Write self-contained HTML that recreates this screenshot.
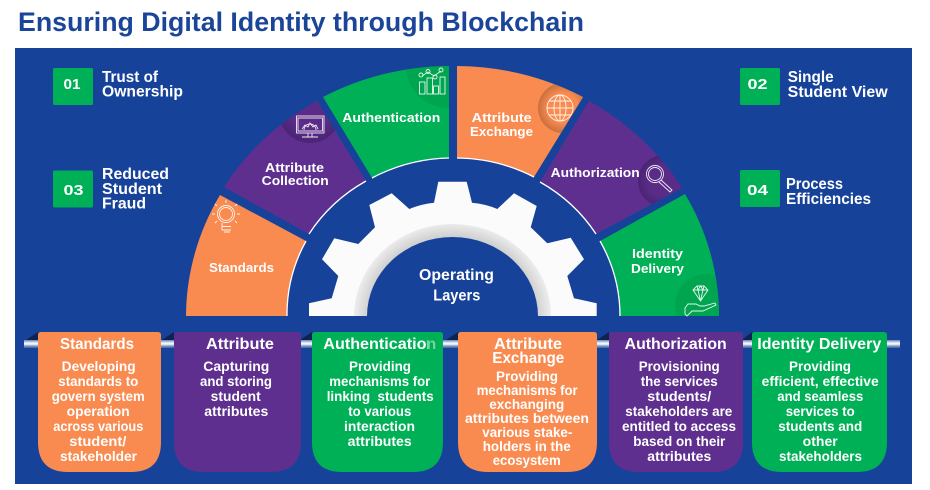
<!DOCTYPE html>
<html>
<head>
<meta charset="utf-8">
<style>
html,body{margin:0;padding:0;background:#fff;width:930px;height:490px;overflow:hidden}
svg{display:block}
text{font-family:"Liberation Sans",sans-serif;font-weight:700;fill:#fff}
.h{font-size:15.5px}
.b{font-size:13.5px}
.a{font-size:13px}
.n{font-size:15px}
.ic{fill:none;stroke:#fff;stroke-width:.9;opacity:.9}
</style>
</head>
<body>
<svg width="930" height="490" viewBox="0 0 930 490" xmlns="http://www.w3.org/2000/svg">
<defs>
<linearGradient id="pipe" x1="0" y1="0" x2="0" y2="1">
<stop offset="0" stop-color="#5f80b6"/><stop offset=".3" stop-color="#d5e0f0"/><stop offset=".5" stop-color="#ffffff"/><stop offset=".75" stop-color="#7f9cc8"/><stop offset="1" stop-color="#3f639f"/>
</linearGradient>
<radialGradient id="ring" gradientUnits="userSpaceOnUse" cx="452.5" cy="316" r="100" gradientTransform="translate(0 17.4) scale(1 .945)">
<stop offset=".84" stop-color="#cfcfcf"/><stop offset="1" stop-color="#f0f0f0"/>
</radialGradient>
<radialGradient id="dOr"><stop offset=".6" stop-color="#F98B50"/><stop offset="1" stop-color="#C8703F"/></radialGradient>
<radialGradient id="dPu"><stop offset=".6" stop-color="#5A2C88"/><stop offset="1" stop-color="#4A2474"/></radialGradient>
<clipPath id="c1"><path d="M323 97A266.5 250 0 0 1 449 66V158A166 158 0 0 0 372 178Z"/></clipPath>
<clipPath id="c2"><path d="M224 187A266.5 250 0 0 1 317 101L366 181A166 158 0 0 0 309 234Z"/></clipPath>
<clipPath id="c3"><path d="M457 66A266.5 250 0 0 1 583 97L534 177A166 158 0 0 0 457 158Z"/></clipPath>
<clipPath id="c4"><path d="M589 101A266.5 250 0 0 1 682 188L596 234A166 158 0 0 0 540 182Z"/></clipPath>
<clipPath id="c5"><path d="M685 194A266.5 250 0 0 1 719 316H620A166 158 0 0 0 600 241Z"/></clipPath>
</defs>

<text x="18" y="31" font-size="26.5" style="fill:#1a4598" textLength="566" lengthAdjust="spacingAndGlyphs">Ensuring Digital Identity through Blockchain</text>
<rect x="15" y="48" width="897" height="436" fill="#17429A"/>

<!-- number boxes -->
<rect x="53" y="68" width="40" height="37" rx="1.5" fill="#00B056"/>
<rect x="53" y="170.5" width="40" height="37" rx="1.5" fill="#00B056"/>
<rect x="740" y="68" width="40" height="37" rx="1.5" fill="#00B056"/>
<rect x="740" y="170" width="40" height="37" rx="1.5" fill="#00B056"/>
<text class="n" x="63.5" y="89" textLength="17" lengthAdjust="spacingAndGlyphs">01</text>
<text class="n" x="63.5" y="195" textLength="20" lengthAdjust="spacingAndGlyphs">03</text>
<text class="n" x="747.5" y="89" textLength="20" lengthAdjust="spacingAndGlyphs">02</text>
<text class="n" x="747" y="195" textLength="21" lengthAdjust="spacingAndGlyphs">04</text>

<text class="h" x="102" y="82" textLength="56" lengthAdjust="spacingAndGlyphs">Trust of</text>
<text class="h" x="102" y="96.7" textLength="81" lengthAdjust="spacingAndGlyphs">Ownership</text>
<text class="h" x="102" y="179" textLength="67" lengthAdjust="spacingAndGlyphs">Reduced</text>
<text class="h" x="102" y="194" textLength="60" lengthAdjust="spacingAndGlyphs">Student</text>
<text class="h" x="102" y="208.7" textLength="44" lengthAdjust="spacingAndGlyphs">Fraud</text>
<text class="h" x="787.7" y="82" textLength="46" lengthAdjust="spacingAndGlyphs">Single</text>
<text class="h" x="787.7" y="97" textLength="100" lengthAdjust="spacingAndGlyphs">Student View</text>
<text class="h" x="786" y="189" textLength="57" lengthAdjust="spacingAndGlyphs">Process</text>
<text class="h" x="786" y="204" textLength="85" lengthAdjust="spacingAndGlyphs">Efficiencies</text>

<!-- arch segments -->
<path d="M186 316A266.5 250 0 0 1 220 195L306 241A166 158 0 0 0 287 316Z" fill="#F98B50"/>
<path d="M224 187A266.5 250 0 0 1 317 101L366 181A166 158 0 0 0 309 234Z" fill="#5F2F8F"/>
<path d="M323 97A266.5 250 0 0 1 449 66V158A166 158 0 0 0 372 178Z" fill="#00B056"/>
<path d="M457 66A266.5 250 0 0 1 583 97L534 177A166 158 0 0 0 457 158Z" fill="#F98B50"/>
<path d="M589 101A266.5 250 0 0 1 682 188L596 234A166 158 0 0 0 540 182Z" fill="#5F2F8F"/>
<path d="M685 194A266.5 250 0 0 1 719 316H620A166 158 0 0 0 600 241Z" fill="#00B056"/>

<!-- icon discs -->
<circle cx="448" cy="66" r="42" fill="#00A550" clip-path="url(#c1)"/>
<circle cx="310" cy="112" r="31" fill="url(#dPu)" clip-path="url(#c2)"/>
<circle cx="563" cy="108" r="25" fill="url(#dOr)" clip-path="url(#c3)"/>
<circle cx="664" cy="181" r="26" fill="url(#dPu)" clip-path="url(#c4)"/>
<circle cx="706" cy="305" r="31" fill="#00A550" clip-path="url(#c5)"/>

<!-- white inner rims -->
<g fill="none" stroke="#fff" stroke-width="1.3">
<path d="M306 241A166 158 0 0 0 287 316"/>
<path d="M366 181A166 158 0 0 0 309 234"/>
<path d="M449 158A166 158 0 0 0 372 178"/>
<path d="M534 177A166 158 0 0 0 457 158"/>
<path d="M596 234A166 158 0 0 0 540 182"/>
<path d="M620 316A166 158 0 0 0 600 241"/>
</g>

<!-- icons -->
<g class="ic">
<circle cx="226" cy="214" r="8.5"/><circle cx="226" cy="214" r="6.5"/>
<path d="M222 223V230H231M222 226.500H231M224 232H230M226 200V203M215 204L217 206M237 204L235 206M212 214H215M237 214H240M215 223L217 221M237 223L235 221"/>
<rect x="296.5" y="116" width="27.5" height="17"/><rect x="298" y="118" width="24.5" height="13"/>
<path d="M304 130A6 6 0 0 1 316 130M302 129L305 125L308 127L310 123L313 127L316 125L318 129M308 133V137M312 133V137M302 137H318"/>
<rect x="419.5" y="82" width="5.5" height="12"/><rect x="427" y="78" width="5.5" height="16"/><rect x="433.5" y="86" width="5" height="8"/><rect x="440" y="77" width="5" height="17"/>
<path d="M422 76L428 72L434 76L441 71"/><circle cx="421" cy="75" r="2"/><circle cx="428" cy="71.5" r="2"/><circle cx="435" cy="77" r="2"/><circle cx="441" cy="70" r="2"/>
<circle cx="560" cy="108" r="13"/><ellipse cx="560" cy="108" rx="6" ry="13"/>
<path d="M560 95V121M547 108H573M549 101H571M549 115H571"/>
<circle cx="655" cy="174" r="8.5"/><circle cx="655" cy="174" r="6.5"/>
<path d="M661 180L672 190L670 192L659 182"/>
<path d="M693 290L697 286H704L708 290L700.5 301ZM693 290H708M698 290L700.5 301L703 290M697 286L698 290L700.5 286L703 290L704 286"/>
<path d="M685 308L688 304H696L700 306H704L715 303L716 305L703 311H692L687 316L685 314Z"/>
</g>

<!-- arch labels -->
<text class="a" x="209" y="272" textLength="65" lengthAdjust="spacingAndGlyphs">Standards</text>
<text class="a" x="265" y="172" textLength="59" lengthAdjust="spacingAndGlyphs">Attribute</text>
<text class="a" x="261.7" y="185" textLength="67" lengthAdjust="spacingAndGlyphs">Collection</text>
<text class="a" x="342.3" y="122" textLength="98" lengthAdjust="spacingAndGlyphs">Authentication</text>
<text class="a" x="471.7" y="122" textLength="60" lengthAdjust="spacingAndGlyphs">Attribute</text>
<text class="a" x="470" y="136" textLength="63" lengthAdjust="spacingAndGlyphs">Exchange</text>
<text class="a" x="550.7" y="177" textLength="89" lengthAdjust="spacingAndGlyphs">Authorization</text>
<text class="a" x="632" y="258" textLength="51" lengthAdjust="spacingAndGlyphs">Identity</text>
<text class="a" x="631" y="273" textLength="53" lengthAdjust="spacingAndGlyphs">Delivery</text>

<!-- gear -->
<path d="M309 316V303.3L331.7 298.3L338.3 276L322 259.3L334.3 238.3L358.3 244L375 227.3L369.3 205L391.7 193.3L409.3 209Q421 204 434 202.7L438.3 181.7H466.7L472 202.7Q486 204 497.3 209L514 193.3L536.700 206L530.700 227.300L547.300 243.300L570.700 237.700L584 259.300L567.300 276L574 298.300L596.700 303.300V316Z" fill="#fbfbfb"/>
<path d="M354 316A98.5 92 0 0 1 551 316H538A85.5 79 0 0 0 367 316Z" fill="url(#ring)"/>
<path d="M367 316A85.5 79 0 0 1 538 316Z" fill="#17429A"/>
<text class="h" x="419" y="280" textLength="75" lengthAdjust="spacingAndGlyphs">Operating</text>
<text class="h" x="433.3" y="300.6" textLength="47" lengthAdjust="spacingAndGlyphs">Layers</text>

<!-- pipe -->
<rect x="24" y="340" width="876" height="8" fill="url(#pipe)"/>
<g fill="#0E2350">
<path d="M26 340L38 332V340Z"/><path d="M162 340L174 332V340Z"/><path d="M300 340L312 332V340Z"/><path d="M446 340L458 332V340Z"/><path d="M597 340L609 332V340Z"/><path d="M742 340L752 332V340Z"/>
</g>

<!-- cards -->
<path d="M41 332H158Q161 332 161 335V442Q161 472 131 472H68Q38 472 38 442V335Q38 332 41 332Z" fill="#F98B50"/>
<path d="M177 332H298Q301 332 301 335V442Q301 472 271 472H204Q174 472 174 442V335Q174 332 177 332Z" fill="#5F2F8F"/>
<path d="M315 332H440Q443 332 443 335V442Q443 472 413 472H342Q312 472 312 442V335Q312 332 315 332Z" fill="#00B056"/>
<path d="M461 332H594Q597 332 597 335V442Q597 472 567 472H488Q458 472 458 442V335Q458 332 461 332Z" fill="#F98B50"/>
<path d="M612 332H740Q743 332 743 335V442Q743 472 713 472H639Q609 472 609 442V335Q609 332 612 332Z" fill="#5F2F8F"/>
<path d="M755 332H884Q887 332 887 335V442Q887 472 857 472H782Q752 472 752 442V335Q752 332 755 332Z" fill="#00B056"/>

<!-- card 1 -->
<text class="h" x="60" y="349" textLength="74" lengthAdjust="spacingAndGlyphs">Standards</text>
<text class="b" x="61.7" y="371" textLength="74" lengthAdjust="spacingAndGlyphs">Developing</text>
<text class="b" x="58.3" y="386" textLength="80" lengthAdjust="spacingAndGlyphs">standards to</text>
<text class="b" x="51.7" y="401" textLength="93" lengthAdjust="spacingAndGlyphs">govern system</text>
<text class="b" x="66.7" y="416" textLength="63" lengthAdjust="spacingAndGlyphs">operation</text>
<text class="b" x="53.3" y="431" textLength="90" lengthAdjust="spacingAndGlyphs">across various</text>
<text class="b" x="69.3" y="446" textLength="57" lengthAdjust="spacingAndGlyphs">student/</text>
<text class="b" x="60" y="461" textLength="77" lengthAdjust="spacingAndGlyphs">stakeholder</text>

<!-- card 2 -->
<text class="h" x="206" y="349" textLength="68" lengthAdjust="spacingAndGlyphs">Attribute</text>
<text class="b" x="203.3" y="371" textLength="66" lengthAdjust="spacingAndGlyphs">Capturing</text>
<text class="b" x="200" y="386" textLength="72" lengthAdjust="spacingAndGlyphs">and storing</text>
<text class="b" x="210.7" y="401" textLength="50" lengthAdjust="spacingAndGlyphs">student</text>
<text class="b" x="204.3" y="416" textLength="64" lengthAdjust="spacingAndGlyphs">attributes</text>

<!-- card 3 -->
<text class="h" x="323.3" y="349" textLength="113" lengthAdjust="spacingAndGlyphs">Authentication</text>
<rect x="428" y="340" width="9" height="10" fill="#00B056" opacity=".55"/>
<text class="b" x="349" y="371" textLength="62" lengthAdjust="spacingAndGlyphs">Providing</text>
<text class="b" x="329.3" y="386" textLength="101" lengthAdjust="spacingAndGlyphs">mechanisms for</text>
<text class="b" x="326.7" y="401" textLength="107" lengthAdjust="spacingAndGlyphs" xml:space="preserve">linking  students</text>
<text class="b" x="348.3" y="416" textLength="63" lengthAdjust="spacingAndGlyphs">to various</text>
<text class="b" x="344" y="431" textLength="71" lengthAdjust="spacingAndGlyphs">interaction</text>
<text class="b" x="347.7" y="446" textLength="64" lengthAdjust="spacingAndGlyphs">attributes</text>

<!-- card 4 -->
<text class="h" x="494" y="349" textLength="68" lengthAdjust="spacingAndGlyphs">Attribute</text>
<text class="h" x="492.3" y="363" textLength="72" lengthAdjust="spacingAndGlyphs">Exchange</text>
<text class="b" x="496" y="381" textLength="62" lengthAdjust="spacingAndGlyphs">Providing</text>
<text class="b" x="476.7" y="395" textLength="101" lengthAdjust="spacingAndGlyphs">mechanisms for</text>
<text class="b" x="489.3" y="409" textLength="75" lengthAdjust="spacingAndGlyphs">exchanging</text>
<text class="b" x="465" y="423" textLength="124" lengthAdjust="spacingAndGlyphs">attributes between</text>
<text class="b" x="482.3" y="437" textLength="90" lengthAdjust="spacingAndGlyphs">various stake-</text>
<text class="b" x="482.7" y="451" textLength="88" lengthAdjust="spacingAndGlyphs">holders in the</text>
<text class="b" x="492.7" y="465" textLength="68" lengthAdjust="spacingAndGlyphs">ecosystem</text>

<!-- card 5 -->
<text class="h" x="624.7" y="349" textLength="102" lengthAdjust="spacingAndGlyphs">Authorization</text>
<text class="b" x="638.7" y="371" textLength="81" lengthAdjust="spacingAndGlyphs">Provisioning</text>
<text class="b" x="640.7" y="386" textLength="77" lengthAdjust="spacingAndGlyphs">the services</text>
<text class="b" x="647.3" y="401" textLength="64" lengthAdjust="spacingAndGlyphs">students/</text>
<text class="b" x="625.3" y="416" textLength="107" lengthAdjust="spacingAndGlyphs">stakeholders are</text>
<text class="b" x="622" y="431" textLength="114" lengthAdjust="spacingAndGlyphs">entitled to access</text>
<text class="b" x="633.3" y="446" textLength="92" lengthAdjust="spacingAndGlyphs">based on their</text>
<text class="b" x="647.3" y="461" textLength="64" lengthAdjust="spacingAndGlyphs">attributes</text>

<!-- card 6 -->
<text class="h" x="757.3" y="349" textLength="124" lengthAdjust="spacingAndGlyphs">Identity Delivery</text>
<text class="b" x="789" y="371" textLength="62" lengthAdjust="spacingAndGlyphs">Providing</text>
<text class="b" x="761.7" y="386" textLength="117" lengthAdjust="spacingAndGlyphs">efficient, effective</text>
<text class="b" x="777.3" y="401" textLength="86" lengthAdjust="spacingAndGlyphs">and seamless</text>
<text class="b" x="785.7" y="416" textLength="69" lengthAdjust="spacingAndGlyphs">services to</text>
<text class="b" x="778.3" y="431" textLength="84" lengthAdjust="spacingAndGlyphs">students and</text>
<text class="b" x="802.7" y="446" textLength="35" lengthAdjust="spacingAndGlyphs">other</text>
<text class="b" x="779" y="461" textLength="83" lengthAdjust="spacingAndGlyphs">stakeholders</text>
</svg>
</body>
</html>
